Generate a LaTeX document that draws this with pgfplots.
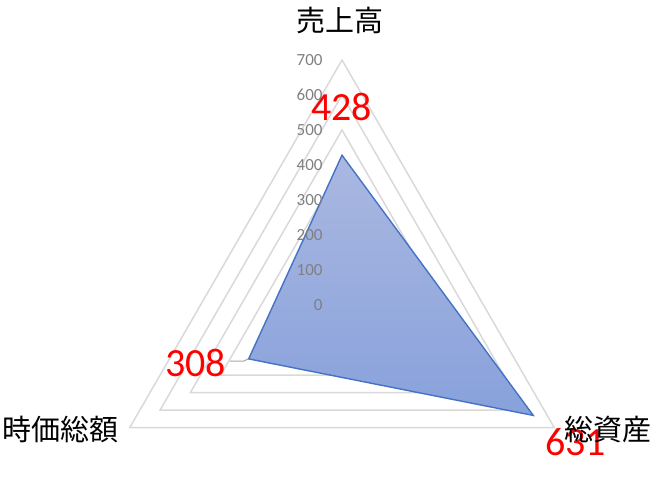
\documentclass[border=0pt]{standalone}
\usepackage{pgfplots}
\pgfplotsset{compat=1.18}
\usepgfplotslibrary{polar}
\usepackage{fontspec}
\setmainfont{Carlito}
\newfontfamily\cjk{Noto Sans CJK JP}
\definecolor{gridgray}{HTML}{D9D9D9}
\definecolor{ticklab}{HTML}{808080}
\definecolor{leader}{HTML}{A6A6A6}
\definecolor{edgeblue}{HTML}{4472C4}
\definecolor{filltop}{HTML}{AAB8E1}
\definecolor{fillbot}{HTML}{88A1DB}
\begin{document}
\begin{tikzpicture}
\begin{axis}[
  hide axis,
  scale only axis,
  x=0.35pt, y=0.35pt,
  xmin=-977.1, xmax=925.7,
  ymin=-494.3, ymax=871.4,
  clip=false,
]
% grid triangles, 100 ... 700
\foreach \r in {100,200,...,700}{
  \edef\tmp{\noexpand\addplot[data cs=polar, draw=gridgray, line width=1.5pt, line join=miter]
    coordinates {(90,\r) (210,\r) (330,\r)} -- cycle;}
  \tmp
}
% data series
\addplot[data cs=polar, draw=edgeblue, line width=1.4pt, line join=miter,
  top color=filltop, bottom color=fillbot]
  coordinates {(90,428) (330,631) (210,308)} -- cycle;
% leader line for 308
\addplot[draw=leader, line width=1pt] coordinates {(-320,-160) (-280,-160) (-268,-154)};
% radial tick labels
\foreach \r in {0,100,...,700}{
  \edef\tmp{\noexpand\node[anchor=east, inner sep=0pt, text=ticklab,
    font=\noexpand\fontsize{17}{17}\noexpand\selectfont] at (axis cs:-55,\r) {\r};}
  \tmp
}
% data labels
\node[text=red, font=\fontsize{40}{40}\selectfont, inner sep=0pt] at (axis cs:-1.4,565.7) {428};
\node[text=red, font=\fontsize{40}{40}\selectfont, inner sep=0pt] at (axis cs:-418.6,-164.3) {308};
\node[text=red, font=\fontsize{40}{40}\selectfont, inner sep=0pt] at (axis cs:667,-392.9) {631};
% category labels
\node[font=\cjk\fontsize{29}{29}\selectfont, inner sep=0pt] at (axis cs:-5.7,812.9) {売上高};
\node[font=\cjk\fontsize{29}{29}\selectfont, inner sep=0pt] at (axis cs:-804,-354.3) {時価総額};
\node[font=\cjk\fontsize{29}{29}\selectfont, inner sep=0pt] at (axis cs:760,-354.3) {総資産};
\coordinate (SW) at (axis cs:-977.1,-494.3);
\coordinate (NE) at (axis cs:925.7,871.4);
\end{axis}
\pgfresetboundingbox
\path[use as bounding box] (SW) rectangle (NE);
\end{tikzpicture}
\end{document}
